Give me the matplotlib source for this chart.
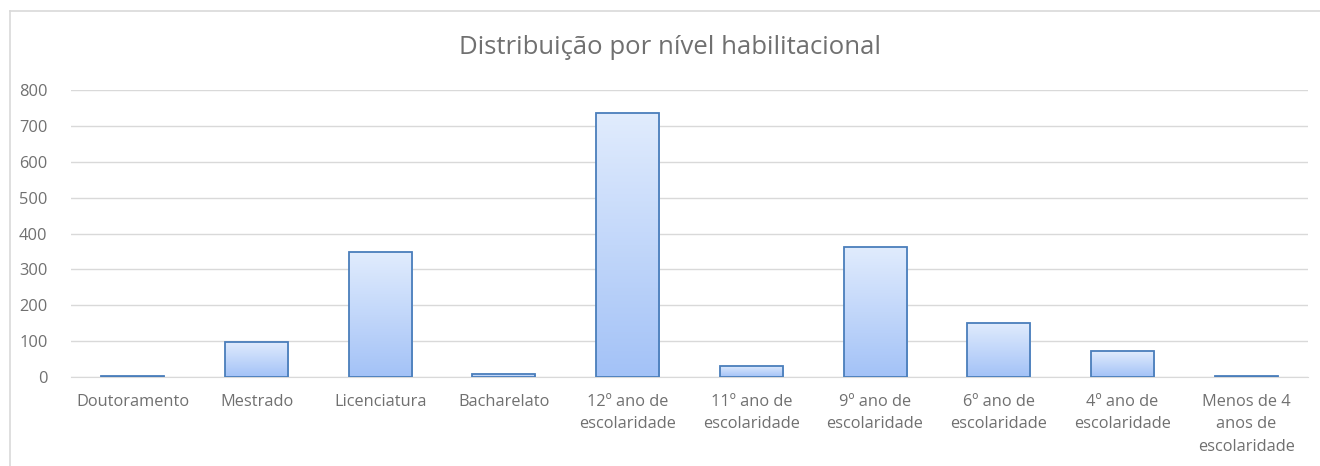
import numpy as np
import matplotlib
matplotlib.use("Agg")
import matplotlib.pyplot as plt
from matplotlib.colors import LinearSegmentedColormap
from matplotlib.lines import Line2D

categories = ["Doutoramento", "Mestrado", "Licenciatura", "Bacharelato",
              "12º ano de\nescolaridade", "11º ano de\nescolaridade",
              "9º ano de\nescolaridade", "6º ano de\nescolaridade",
              "4º ano de\nescolaridade", "Menos de 4\nanos de\nescolaridade"]
values = [3, 98, 348, 7, 737, 31, 363, 151, 72, 2]
yticks = [0, 100, 200, 300, 400, 500, 600, 700, 800]
title = "Distribuição por nível habilitacional"

W, H = 1320, 466
plt.rcParams['font.family'] = ['Open Sans', 'DejaVu Sans']
fig = plt.figure(figsize=(W/100, H/100), dpi=100)
ax = fig.add_axes([71/W, 1-377/H, (1308-71)/W, (377-90)/H])

x = np.arange(len(categories))
bars = ax.bar(x, values, width=0.51, color='none', edgecolor='#4a7ebb', linewidth=1.3, zorder=3)
cmap = LinearSegmentedColormap.from_list('g', ['#a3c2f7', '#e1ecfd'])
grad = np.linspace(0, 1, 256).reshape(-1, 1)
for b in bars:
    x0, y0 = b.get_x(), b.get_y()
    w, h = b.get_width(), b.get_height()
    im = ax.imshow(grad, extent=[x0, x0+w, y0, y0+h], origin='lower', cmap=cmap,
                   aspect='auto', zorder=2)
    im.set_clip_path(b)

ax.set_xlim(-0.5, len(categories)-0.5)
ax.set_ylim(0, 800)
ax.set_yticks(yticks)
ax.set_xticks(x)
ax.set_xticklabels(categories, linespacing=1.55)
ax.grid(axis='y', color='#d9d9d9', linewidth=1.0, zorder=0)
ax.set_axisbelow(True)
for s in ['top', 'right', 'left']:
    ax.spines[s].set_visible(False)
ax.spines['bottom'].set_color('#d9d9d9')
ax.tick_params(axis='both', length=0, labelsize=11.8, colors='#707070')
ax.tick_params(axis='x', pad=12)
ax.tick_params(axis='y', pad=17)
for t in ax.get_yticklabels():
    t.set_horizontalalignment('right')

fig.text(670/W, 1-47/H, title, ha='center', va='center', fontsize=18.5, color='#707070')

fig.add_artist(Line2D([10/W, 1], [1-11/H, 1-11/H], color='#d9d9d9', linewidth=1.2))
fig.add_artist(Line2D([10/W, 10/W], [0, 1-11/H], color='#d9d9d9', linewidth=1.2))

fig.savefig('out.png', dpi=100)
